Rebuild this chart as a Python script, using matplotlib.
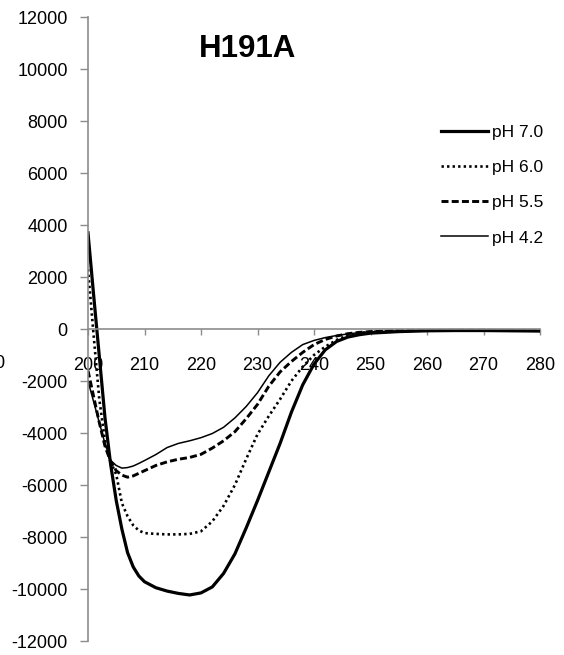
import matplotlib
matplotlib.use("Agg")
import matplotlib.pyplot as plt
from matplotlib.lines import Line2D

plt.rcParams['font.family'] = ['Liberation Sans', 'DejaVu Sans']

# Wavelength (nm) and mean residue ellipticity for each pH
wavelength = [200, 201, 202, 203, 204, 205, 206, 207, 208, 209, 210, 212, 214, 216,
              218, 220, 222, 224, 226, 228, 230, 232, 234, 236, 238, 240, 242, 244,
              246, 248, 250, 255, 260, 265, 270, 275, 280]

ph70 = [3700, 1300, -1050, -3400, -5200, -6600, -7700, -8600, -9150, -9500, -9720,
        -9950, -10080, -10170, -10230, -10150, -9920, -9400, -8650, -7650, -6600,
        -5500, -4400, -3200, -2150, -1350, -800, -480, -310, -220, -160, -100, -70,
        -60, -60, -70, -80]

ph60 = [2300, -250, -2700, -4300, -5100, -5600, -6700, -7200, -7550, -7750, -7850,
        -7880, -7900, -7900, -7880, -7780, -7400, -6800, -6000, -5000, -4050, -3350,
        -2700, -2000, -1450, -1000, -680, -420, -250, -160, -110, -70, -55, -50, -50,
        -55, -60]

ph55 = [-1600, -2600, -3600, -4500, -5100, -5450, -5620, -5700, -5650, -5550, -5450,
        -5250, -5110, -5010, -4940, -4820, -4580, -4300, -3950, -3450, -2900, -2200,
        -1650, -1250, -900, -600, -400, -270, -180, -130, -100, -70, -55, -50, -50,
        -55, -60]

ph42 = [-2000, -2800, -3600, -4400, -5050, -5250, -5350, -5330, -5270, -5170, -5060,
        -4830, -4560, -4400, -4300, -4180, -4020, -3780, -3420, -2980, -2450, -1800,
        -1280, -900, -600, -440, -330, -250, -190, -140, -110, -80, -60, -55, -55,
        -55, -60]

series_labels = ['pH 7.0', 'pH 6.0', 'pH 5.5', 'pH 4.2']
x_ticks = list(range(200, 281, 10))
y_ticks = list(range(-12000, 12001, 2000))

W, H = 564, 655
fig = plt.figure(figsize=(W / 100, H / 100), dpi=100)
ax = fig.add_axes([88 / W, 1 - 641 / H, (540 - 88) / W, (641 - 17) / H])

styles = [
    dict(color='black', lw=2.3, ls='-'),
    dict(color='black', lw=1.9, ls=(0, (0.9, 1.2))),
    dict(color='black', lw=2.1, ls=(0, (2.4, 1.1))),
    dict(color='black', lw=1.1, ls='-'),
]
for ys, st in zip([ph70, ph60, ph55, ph42], styles):
    ax.plot(wavelength, ys, **st)

ax.set_xlim(200, 280)
ax.set_ylim(-12000, 12000)
ax.set_xticks(x_ticks)
ax.set_yticks(y_ticks)
ax.set_xticklabels([str(t) for t in x_ticks])
ax.set_yticklabels([str(t) for t in y_ticks])

axis_grey = '#8c8c8c'
for side in ['top', 'right']:
    ax.spines[side].set_visible(False)
ax.spines['bottom'].set_position(('data', 0))
ax.spines['bottom'].set_color(axis_grey)
ax.spines['left'].set_color(axis_grey)
ax.spines['bottom'].set_linewidth(1.2)
ax.spines['left'].set_linewidth(1.2)

ax.tick_params(axis='x', direction='out', length=4, width=1, color=axis_grey,
               labelsize=13, pad=16)
ax.tick_params(axis='y', direction='out', length=5.5, width=1, color=axis_grey,
               labelsize=13, pad=9)

handles = [Line2D([], [], **st) for st in styles]
leg = ax.legend(handles, series_labels, loc='upper right', frameon=False,
                bbox_to_anchor=(543 / W, 1 - 125 / H), bbox_transform=fig.transFigure,
                fontsize=12.5, handlelength=2.7, handletextpad=0.2, labelspacing=1.15,
                borderaxespad=0, borderpad=0)

fig.text(247.5 / W, 1 - 48.7 / H, 'H191A', ha='center', va='center',
         fontsize=22.5, fontweight='bold')

# tail of the neighbouring panel's last x label at the left edge
fig.text(5 / W, 1 - 363 / H, '280', ha='right', va='center', fontsize=13)

fig.savefig('out.png', dpi=100)
